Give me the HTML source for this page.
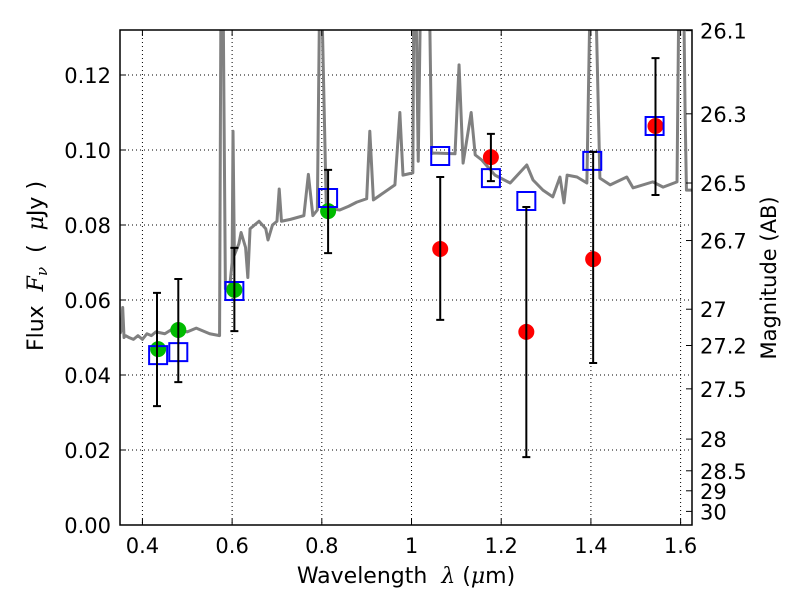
<!DOCTYPE html>
<html><head><meta charset="utf-8"><style>
body{margin:0;background:#fff;}
svg text{font-family:"DejaVu Sans","Liberation Sans",sans-serif;fill:#000;}
</style></head><body>
<svg id="chart" width="800" height="600" viewBox="0 0 800 600">
<rect width="800" height="600" fill="#fff"/>
<g id="grid"></g>
<g id="plot"></g>
<g id="axes"></g>
<text x="406" y="583" text-anchor="middle" font-size="22">Wavelength&#160;&#160;<tspan font-style="italic" font-family="DejaVu Serif,serif">λ</tspan>&#160;(<tspan font-style="italic" font-family="DejaVu Serif,serif">μ</tspan>m)</text>
<text transform="translate(43,266) rotate(-90)" text-anchor="middle" font-size="22">Flux&#160;&#160;<tspan font-style="italic" font-family="DejaVu Serif,serif">F<tspan font-size="15" dy="4">ν</tspan></tspan><tspan dy="-4">&#160;&#160;(&#160;&#160;</tspan><tspan font-style="italic" font-family="DejaVu Serif,serif">μ</tspan>Jy&#160;)</text>
<text transform="translate(776,278) rotate(-90)" text-anchor="middle" font-size="21">Magnitude (AB)</text>
</svg>
<script>
const xTicks=[0.4,0.6,0.8,1.0,1.2,1.4,1.6];
const xTickLabels=["0.4","0.6","0.8","1","1.2","1.4","1.6"];
const yTicks=[0,0.02,0.04,0.06,0.08,0.10,0.12];
const yTickLabels=["0.00","0.02","0.04","0.06","0.08","0.10","0.12"];
const magTicks=[26.1,26.3,26.5,26.7,27,27.2,27.5,28,28.5,29,30];
const magTickLabels=["26.1","26.3","26.5","26.7","27","27.2","27.5","28","28.5","29","30"];
const specLam=[0.35,0.353,0.356,0.359,0.362,0.37,0.38,0.39,0.40,0.41,0.42,0.43,0.45,0.47,0.50,0.52,0.55,0.572,0.575,0.58,0.585,0.595,0.60,0.602,0.605,0.615,0.62,0.63,0.635,0.64,0.66,0.675,0.68,0.69,0.70,0.705,0.71,0.73,0.76,0.77,0.78,0.79,0.795,0.80,0.81,0.84,0.86,0.878,0.90,0.907,0.915,0.963,0.974,0.981,1.003,1.005,1.010,1.015,1.02,1.03,1.04,1.045,1.048,1.097,1.106,1.115,1.133,1.142,1.157,1.186,1.220,1.257,1.271,1.293,1.315,1.331,1.340,1.347,1.369,1.391,1.398,1.411,1.420,1.443,1.480,1.494,1.538,1.561,1.592,1.596,1.607,1.610,1.613,1.627];
const specFlux=[0.051,0.052,0.058,0.050,0.0505,0.050,0.0495,0.0505,0.0495,0.051,0.0505,0.0515,0.051,0.0525,0.0515,0.0525,0.051,0.0505,0.14,0.14,0.063,0.064,0.070,0.105,0.072,0.075,0.078,0.074,0.066,0.079,0.081,0.079,0.076,0.080,0.081,0.0896,0.081,0.0815,0.0825,0.0935,0.0825,0.084,0.14,0.14,0.0845,0.084,0.085,0.0861,0.087,0.105,0.0867,0.0907,0.110,0.0933,0.0939,0.14,0.14,0.097,0.14,0.14,0.14,0.099,0.0992,0.0990,0.1227,0.0965,0.110,0.0987,0.0973,0.0933,0.0912,0.096,0.092,0.0893,0.0875,0.0928,0.0859,0.0933,0.0928,0.0912,0.14,0.14,0.0925,0.0907,0.0928,0.0899,0.0915,0.0901,0.0915,0.14,0.14,0.11,0.0893,0.0893];
const greenLam=[0.435,0.48,0.605,0.814];
const greenFlux=[0.0469,0.052,0.0627,0.0837];
const boxLam=[0.435,0.48,0.605,0.814,1.064,1.177,1.256,1.403,1.542];
const boxFlux=[0.0453,0.0461,0.0624,0.0872,0.0984,0.0925,0.0864,0.0971,0.1064];
const redLam=[1.064,1.177,1.256,1.405,1.544];
const redFlux=[0.0736,0.0981,0.0515,0.0709,0.1064];
const errLam=[0.4325,0.48,0.605,0.814,1.064,1.177,1.256,1.405,1.544];
const errLow=[0.0317,0.0381,0.0517,0.0725,0.0547,0.0917,0.0181,0.0432,0.088];
const errHigh=[0.0619,0.0656,0.0739,0.0947,0.0928,0.1043,0.0848,0.0995,0.1245];

const L=120,R=692,T=30,B=525,xMin=0.35,xMax=1.6254,yMin=0,yMax=0.132;
const X=v=>L+(v-xMin)/(xMax-xMin)*(R-L);
const Y=v=>B-(v-yMin)/(yMax-yMin)*(B-T);
const NS="http://www.w3.org/2000/svg";
function mk(tag,attrs,parent){const e=document.createElementNS(NS,tag);for(const k in attrs)e.setAttribute(k,attrs[k]);parent.appendChild(e);return e;}
const grid=document.getElementById('grid'),plot=document.getElementById('plot'),axes=document.getElementById('axes');
const defs=mk('defs',{},document.getElementById('chart'));
const cp=mk('clipPath',{id:'clip'},defs);mk('rect',{x:L,y:T,width:R-L,height:B-T},cp);
plot.setAttribute('clip-path','url(#clip)');
xTicks.forEach((t,i)=>{
  const g=mk('line',{x1:X(t),x2:X(t),y1:T,y2:B,stroke:'#000','stroke-width':1,'stroke-dasharray':'1,3'},grid);
  
  
  mk('line',{x1:X(t),x2:X(t),y1:B,y2:B-6,stroke:'#000'},axes);
  mk('line',{x1:X(t),x2:X(t),y1:T,y2:T+6,stroke:'#000'},axes);
  const tx=mk('text',{x:X(t),y:553,'text-anchor':'middle','font-size':21},axes);tx.textContent=xTickLabels[i];
  
  
});
yTicks.forEach((t,i)=>{
  const g=mk('line',{x1:L,x2:R,y1:Y(t),y2:Y(t),stroke:'#000','stroke-width':1,'stroke-dasharray':'1,3'},grid);
  
  
  mk('line',{x1:L,x2:L+6,y1:Y(t),y2:Y(t),stroke:'#000'},axes);
  const tx=mk('text',{x:111,y:Y(t)+8,'text-anchor':'end','font-size':21},axes);tx.textContent=yTickLabels[i];
  
  
});
magTicks.forEach((m,i)=>{
  const f=Math.pow(10,(23.9-m)/2.5);const y=Y(f);
  mk('line',{x1:R,x2:R-6,y1:y,y2:y,stroke:'#000'},axes);
  const tx=mk('text',{x:700,y:y+8,'font-size':21},axes);tx.textContent=magTickLabels[i];
  
  
});
const border=mk('rect',{x:L,y:T,width:R-L,height:B-T,fill:'none',stroke:'#000','stroke-width':1.5},axes);


const sp=mk('polyline',{points:specLam.map((l,i)=>X(l)+','+Y(specFlux[i])).join(' '),fill:'none',stroke:'#808080','stroke-width':3,'stroke-linejoin':'round'},plot);


greenLam.forEach((l,i)=>{
  const c=mk('circle',{cx:X(l),cy:Y(greenFlux[i]),r:8,fill:'#00bb00'},plot);
  
  
});
redLam.forEach((l,i)=>{
  const c=mk('circle',{cx:X(l),cy:Y(redFlux[i]),r:8,fill:'#ff0000'},plot);
  
  
});
boxLam.forEach((l,i)=>{
  const r=mk('rect',{x:X(l)-9,y:Y(boxFlux[i])-9,width:18,height:18,fill:'none',stroke:'#0000ff','stroke-width':2},plot);
  
  
});
errLam.forEach((l,i)=>{
  const x=X(l),y1=Y(errLow[i]),y2=Y(errHigh[i]);
  const g=mk('g',{stroke:'#000','stroke-width':2},plot);
  
  
  mk('line',{x1:x,x2:x,y1:y1,y2:y2},g);
  mk('line',{x1:x-4,x2:x+4,y1:y1,y2:y1},g);
  mk('line',{x1:x-4,x2:x+4,y1:y2,y2:y2},g);
});
</script>
</body></html>
